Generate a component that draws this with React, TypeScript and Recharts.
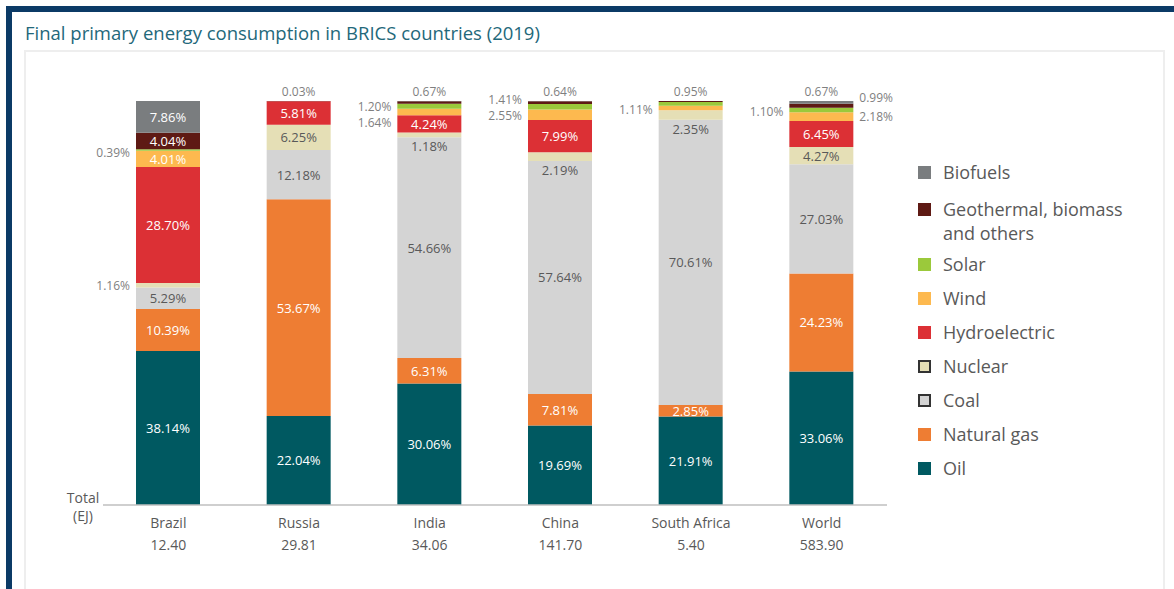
import { BarChart, Bar, XAxis, YAxis, LabelList } from "recharts";

const countries = ["Brazil", "Russia", "India", "China", "South Africa", "World"];
const totals = ["12.40", "29.81", "34.06", "141.70", "5.40", "583.90"];

// shares in %, bottom to top of each stack
const oil = [38.14, 22.04, 30.06, 19.69, 21.91, 33.06];
const naturalGas = [10.39, 53.67, 6.31, 7.81, 2.85, 24.23];
const coal = [5.29, 12.18, 54.66, 57.64, 70.61, 27.03];
const nuclear = [1.16, 6.25, 1.18, 2.19, 2.35, 4.27];
const hydro = [28.7, 5.81, 4.24, 7.99, 0, 6.45];
const wind = [4.01, 0, 1.64, 2.55, 1.11, 2.18];
const solar = [0.39, 0, 1.2, 1.41, 0.95, 1.1];
const geothermal = [4.04, 0.03, 0.67, 0.64, 0.22, 0.99];
const biofuels = [7.86, 0, 0.04, 0.08, 0, 0.67];

const data = countries.map((name, i) => ({
  name,
  total: totals[i],
  oil: oil[i],
  naturalGas: naturalGas[i],
  coal: coal[i],
  nuclear: nuclear[i],
  hydro: hydro[i],
  wind: wind[i],
  solar: solar[i],
  geothermal: geothermal[i],
  biofuels: biofuels[i],
}));

const FONT = "'Open Sans', Lato, sans-serif";
const GREY = "#595959";
const PLOT_LEFT = 103;
const PLOT_WIDTH = 784;

type Series = { key: string; name: string; color: string; text: string; border?: boolean };

const series: Series[] = [
  { key: "oil", name: "Oil", color: "#005961", text: "#ffffff" },
  { key: "naturalGas", name: "Natural gas", color: "#ee7d33", text: "#ffffff" },
  { key: "coal", name: "Coal", color: "#d4d4d4", text: GREY, border: true },
  { key: "nuclear", name: "Nuclear", color: "#e5dfb6", text: GREY, border: true },
  { key: "hydro", name: "Hydroelectric", color: "#dc3035", text: "#ffffff" },
  { key: "wind", name: "Wind", color: "#fdb94f", text: "#ffffff" },
  { key: "solar", name: "Solar", color: "#9bc93b", text: "#ffffff" },
  { key: "geothermal", name: "Geothermal, biomass and others", color: "#5e1a14", text: "#ffffff" },
  { key: "biofuels", name: "Biofuels", color: "#7a7d7f", text: "#ffffff" },
];

// where each value label sits: in = centred, left/right = beside bar, top = above stack, below = under segment
const placement: Record<string, string[]> = {
  oil: ["in", "in", "in", "in", "in", "in"],
  naturalGas: ["in", "in", "in", "in", "in", "in"],
  coal: ["in", "in", "in", "in", "in", "in"],
  nuclear: ["left", "in", "below", "below", "below", "in"],
  hydro: ["in", "in", "in", "in", "", "in"],
  wind: ["in", "", "left", "left", "left", "right"],
  solar: ["left", "", "left", "left", "top", "left"],
  geothermal: ["in", "top", "top", "top", "", "right"],
  biofuels: ["in", "", "", "", "", "top"],
};
const nudge: Record<string, number[]> = {
  wind: [0, 0, 10, 1, 2, 0],
  solar: [3, 0, 0, -7, 0, 1],
  geothermal: [0, 0, 0, 0, 0, -8],
};

const makeLabel = (s: Series) => (props: any) => {
  const { x, y, width, height, value } = props;
  // category index from the bar's position (LabelList skips empty entries)
  const index = Math.floor((x + width / 2 - PLOT_LEFT) / (PLOT_WIDTH / countries.length));
  const where = placement[s.key]?.[index];
  if (!where || !value) return null;
  const dy = nudge[s.key]?.[index] ?? 0;
  const txt = `${Number(value).toFixed(2)}%`;
  const cy = y + height / 2 + dy;
  const inner = { fontSize: 13, fontFamily: FONT, dominantBaseline: "central" as const };
  const outer = { fontSize: 12, fontFamily: FONT, dominantBaseline: "central" as const };
  if (where === "in")
    return (
      <text x={x + width / 2} y={cy} textAnchor="middle" fill={s.text} {...inner}>
        {txt}
      </text>
    );
  if (where === "below")
    return (
      <text x={x + width / 2} y={y + height + 9} textAnchor="middle" fill={GREY} {...inner}>
        {txt}
      </text>
    );
  if (where === "left")
    return (
      <text x={x - 6} y={cy} textAnchor="end" fill="#7f7f7f" {...outer}>
        {txt}
      </text>
    );
  if (where === "right")
    return (
      <text x={x + width + 6} y={cy} textAnchor="start" fill="#7f7f7f" {...outer}>
        {txt}
      </text>
    );
  return (
    <text x={x + width / 2} y={y - 10} textAnchor="middle" fill="#7f7f7f" {...outer}>
      {txt}
    </text>
  );
};

const CountryTick = (props: any) => {
  const { x, y, payload, index } = props;
  return (
    <g>
      <text x={x} y={y + 9} textAnchor="middle" fill={GREY} fontSize={14} fontFamily={FONT} dominantBaseline="central">
        {payload.value}
      </text>
      <text x={x} y={y + 31} textAnchor="middle" fill={GREY} fontSize={14} fontFamily={FONT} dominantBaseline="central">
        {totals[index]}
      </text>
    </g>
  );
};

const legendOrder = [...series].reverse();
const legendGap: Record<string, number> = { biofuels: 13, geothermal: 7 };

export default function App() {
  return (
    <div style={{ position: "absolute", left: 0, top: 0, width: 1174, height: 589, background: "#fff", overflow: "hidden" }}>
      <div style={{ position: "absolute", left: 6, top: 6, right: 0, height: 6, background: "#0b3a66" }} />
      <div style={{ position: "absolute", left: 6, top: 6, width: 6, bottom: 0, background: "#0b3a66" }} />
      <div
        style={{
          position: "absolute",
          left: 25,
          top: 21,
          fontFamily: FONT,
          fontSize: 18.5,
          lineHeight: "24px",
          color: "#23687a",
          whiteSpace: "nowrap",
        }}
      >
        Final primary energy consumption in BRICS countries (2019)
      </div>
      <div
        style={{
          position: "absolute",
          left: 24,
          top: 50,
          width: 1141,
          height: 560,
          border: "2px solid #eeeeee",
          boxSizing: "border-box",
        }}
      />
      <div
        style={{
          position: "absolute",
          left: 60,
          top: 489,
          width: 46,
          textAlign: "center",
          fontFamily: FONT,
          fontSize: 14,
          lineHeight: "18px",
          color: GREY,
        }}
      >
        Total
        <br />
        (EJ)
      </div>
      <div style={{ position: "absolute", left: 0, top: 0 }}>
        <BarChart
          width={1174}
          height={589}
          data={data}
          margin={{ top: 101, right: 1174 - PLOT_LEFT - PLOT_WIDTH, bottom: 34, left: PLOT_LEFT }}
          barSize={64}
        >
          <XAxis
            dataKey="name"
            axisLine={{ stroke: "#bfbfbf", strokeWidth: 1.5 }}
            tickLine={false}
            height={50}
            interval={0}
            tick={<CountryTick />}
          />
          <YAxis hide domain={[0, 100]} type="number" allowDataOverflow />
          {series.map((s) => (
            <Bar key={s.key} dataKey={s.key} name={s.name} stackId="a" fill={s.color} isAnimationActive={false}>
              <LabelList dataKey={s.key} content={makeLabel(s)} />
            </Bar>
          ))}
        </BarChart>
      </div>
      <div style={{ position: "absolute", left: 918, top: 160, fontFamily: FONT, fontSize: 18, color: GREY }}>
        {legendOrder.map((s) => (
          <div key={s.key} style={{ display: "flex", alignItems: "flex-start", marginBottom: legendGap[s.key] ?? 10 }}>
            <div
              style={{
                width: 13,
                height: 13,
                marginTop: 6,
                marginRight: 12,
                background: s.color,
                boxSizing: "border-box",
                border: s.border ? "2px solid #333" : "none",
                flexShrink: 0,
              }}
            />
            <div style={{ width: 190, lineHeight: "24px" }}>{s.name}</div>
          </div>
        ))}
      </div>
    </div>
  );
}
